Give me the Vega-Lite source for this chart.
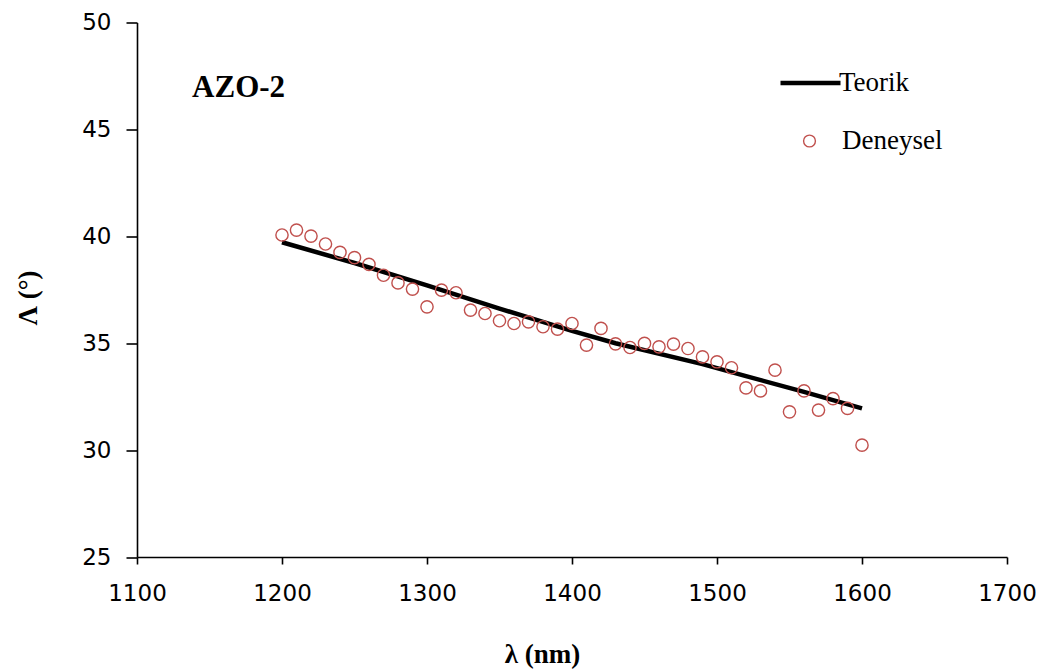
{
  "$schema": "https://vega.github.io/schema/vega-lite/v6.json",
  "width": 870,
  "height": 534.5,
  "autosize": {"type": "none"},
  "padding": {"left": 137, "top": 22.5, "right": 34, "bottom": 115},
  "background": "white",
  "config": {
    "view": {"stroke": null},
    "axis": {
      "grid": false,
      "domainColor": "#000",
      "domainWidth": 1.6,
      "tickColor": "#000",
      "tickWidth": 1.6,
      "labelFont": "DejaVu Sans",
      "labelFontSize": 23,
      "labelColor": "#000",
      "titleFont": "Liberation Serif",
      "titleFontWeight": "bold",
      "titleFontSize": 27,
      "titleColor": "#000"
    },
    "legend": {"padding": 0}
  },
  "datasets": {
    "theory": [
      {"lambda": 1200, "delta": 39.72, "series": "Teorik"},
      {"lambda": 1250, "delta": 38.75, "series": "Teorik"},
      {"lambda": 1300, "delta": 37.7, "series": "Teorik"},
      {"lambda": 1350, "delta": 36.62, "series": "Teorik"},
      {"lambda": 1400, "delta": 35.58, "series": "Teorik"},
      {"lambda": 1430, "delta": 35.0, "series": "Teorik"},
      {"lambda": 1490, "delta": 34.02, "series": "Teorik"},
      {"lambda": 1520, "delta": 33.46, "series": "Teorik"},
      {"lambda": 1560, "delta": 32.72, "series": "Teorik"},
      {"lambda": 1600, "delta": 31.95, "series": "Teorik"}
    ],
    "exp": [
      {"lambda": 1200, "delta": 40.06, "series": "Deneysel"},
      {"lambda": 1210, "delta": 40.29, "series": "Deneysel"},
      {"lambda": 1220, "delta": 40.01, "series": "Deneysel"},
      {"lambda": 1230, "delta": 39.64, "series": "Deneysel"},
      {"lambda": 1240, "delta": 39.25, "series": "Deneysel"},
      {"lambda": 1250, "delta": 39.0, "series": "Deneysel"},
      {"lambda": 1260, "delta": 38.69, "series": "Deneysel"},
      {"lambda": 1270, "delta": 38.18, "series": "Deneysel"},
      {"lambda": 1280, "delta": 37.82, "series": "Deneysel"},
      {"lambda": 1290, "delta": 37.53, "series": "Deneysel"},
      {"lambda": 1300, "delta": 36.7, "series": "Deneysel"},
      {"lambda": 1310, "delta": 37.48, "series": "Deneysel"},
      {"lambda": 1320, "delta": 37.36, "series": "Deneysel"},
      {"lambda": 1330, "delta": 36.55, "series": "Deneysel"},
      {"lambda": 1340, "delta": 36.39, "series": "Deneysel"},
      {"lambda": 1350, "delta": 36.05, "series": "Deneysel"},
      {"lambda": 1360, "delta": 35.92, "series": "Deneysel"},
      {"lambda": 1370, "delta": 36.0, "series": "Deneysel"},
      {"lambda": 1380, "delta": 35.77, "series": "Deneysel"},
      {"lambda": 1390, "delta": 35.66, "series": "Deneysel"},
      {"lambda": 1400, "delta": 35.92, "series": "Deneysel"},
      {"lambda": 1410, "delta": 34.91, "series": "Deneysel"},
      {"lambda": 1420, "delta": 35.69, "series": "Deneysel"},
      {"lambda": 1430, "delta": 34.97, "series": "Deneysel"},
      {"lambda": 1440, "delta": 34.8, "series": "Deneysel"},
      {"lambda": 1450, "delta": 34.99, "series": "Deneysel"},
      {"lambda": 1460, "delta": 34.83, "series": "Deneysel"},
      {"lambda": 1470, "delta": 34.96, "series": "Deneysel"},
      {"lambda": 1480, "delta": 34.75, "series": "Deneysel"},
      {"lambda": 1490, "delta": 34.36, "series": "Deneysel"},
      {"lambda": 1500, "delta": 34.13, "series": "Deneysel"},
      {"lambda": 1510, "delta": 33.85, "series": "Deneysel"},
      {"lambda": 1520, "delta": 32.91, "series": "Deneysel"},
      {"lambda": 1530, "delta": 32.77, "series": "Deneysel"},
      {"lambda": 1540, "delta": 33.74, "series": "Deneysel"},
      {"lambda": 1550, "delta": 31.79, "series": "Deneysel"},
      {"lambda": 1560, "delta": 32.77, "series": "Deneysel"},
      {"lambda": 1570, "delta": 31.87, "series": "Deneysel"},
      {"lambda": 1580, "delta": 32.41, "series": "Deneysel"},
      {"lambda": 1590, "delta": 31.95, "series": "Deneysel"},
      {"lambda": 1600, "delta": 30.23, "series": "Deneysel"}
    ],
    "label": [
      {"lambda": 1138, "delta": 46.5, "text": "AZO-2"}
    ]
  },
  "encoding": {
    "x": {
      "field": "lambda",
      "type": "quantitative",
      "scale": {"domain": [1100, 1700], "nice": false, "zero": false},
      "axis": {
        "title": "λ (nm)",
        "values": [1100, 1200, 1300, 1400, 1500, 1600, 1700],
        "format": "d",
        "labelFlush": false,
        "tickSize": 7,
        "labelPadding": 18,
        "titleX": 405,
        "titleY": 84,
        "titleBaseline": "top",
        "titleAlign": "center"
      }
    },
    "y": {
      "field": "delta",
      "type": "quantitative",
      "scale": {"domain": [25, 50], "nice": false, "zero": false},
      "axis": {
        "title": "Λ (°)",
        "values": [25, 30, 35, 40, 45, 50],
        "labelFlush": false,
        "tickSize": 11,
        "labelPadding": 15,
        "titleAngle": -90,
        "titleX": -109,
        "titleY": 275,
        "titleBaseline": "middle",
        "titleAlign": "center"
      }
    }
  },
  "layer": [
    {
      "data": {"name": "theory"},
      "mark": {"type": "line", "strokeWidth": 4.5, "interpolate": "linear"},
      "encoding": {
        "color": {
          "field": "series",
          "type": "nominal",
          "scale": {"domain": ["Teorik"], "range": ["#000000"]},
          "legend": {
            "title": null,
            "orient": "none",
            "legendX": 641,
            "legendY": 28,
            "symbolType": "stroke",
            "symbolSize": 3600,
            "symbolStrokeWidth": 4.5,
            "symbolStrokeColor": "#000",
            "labelFont": "Liberation Serif",
            "labelFontSize": 27,
            "labelColor": "#000",
            "labelOffset": -4
          }
        }
      }
    },
    {
      "data": {"name": "exp"},
      "mark": {"type": "point", "filled": false, "stroke": "#c0504d", "strokeWidth": 1.4, "size": 150, "opacity": 1},
      "encoding": {
        "shape": {
          "field": "series",
          "type": "nominal",
          "scale": {"domain": ["Deneysel"], "range": ["circle"]},
          "legend": {
            "title": null,
            "orient": "none",
            "legendX": 659,
            "legendY": 105,
            "symbolSize": 140,
            "symbolStrokeColor": "#c0504d",
            "symbolStrokeWidth": 1.4,
            "symbolFillColor": "transparent",
            "labelFont": "Liberation Serif",
            "labelFontSize": 27,
            "labelColor": "#000",
            "labelOffset": 19
          }
        }
      }
    },
    {
      "data": {"name": "label"},
      "mark": {"type": "text", "font": "Liberation Serif", "fontWeight": "bold", "fontSize": 31, "align": "left", "baseline": "alphabetic", "color": "#000"},
      "encoding": {"text": {"field": "text"}}
    }
  ]
}
